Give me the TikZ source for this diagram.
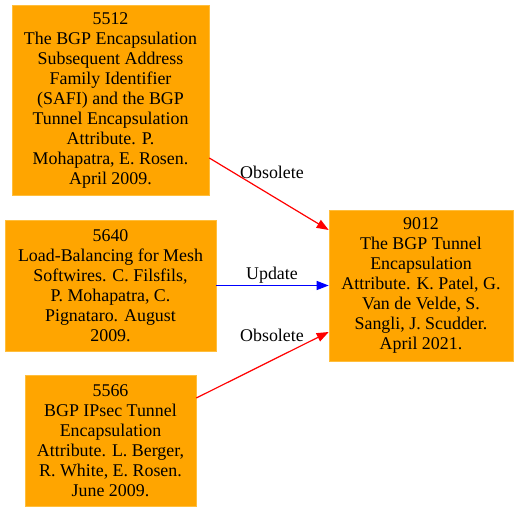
\documentclass[tikz,border=0pt]{standalone}
\usepackage{fontspec}
\setmainfont{Liberation Serif}
\usetikzlibrary{calc,arrows.meta}
\definecolor{gvorange}{RGB}{255,165,0}
\definecolor{gvedge}{RGB}{255,190,60}

\begin{document}
\begin{tikzpicture}[x=1pt,y=-1pt,
    rfc/.style={fill=gvorange,draw=gvedge,line width=0.6pt,align=center,
      inner sep=0pt,font=\fontsize{17.9}{20}\selectfont},
    link/.style={line width=1.2pt,-{Triangle[length=12pt,width=9pt]}},
    lbl/.style={font=\fontsize{17.9}{20}\selectfont,inner sep=0pt}]
  % canvas
  \useasboundingbox (0,0) rectangle (519,511);

  % documents
  \node[rfc,minimum width=197,minimum height=190] (n5512) at (110.5,100)
    {5512\\The BGP Encapsulation\\Subsequent Address\\Family Identifier\\(SAFI) and the BGP\\Tunnel Encapsulation\\Attribute. P.\\Mohapatra, E. Rosen.\\April 2009.};
  \node[rfc,minimum width=211,minimum height=131] (n5640) at (110.5,285.5)
    {5640\\Load-Balancing for Mesh\\Softwires. C. Filsfils,\\P. Mohapatra, C.\\Pignataro. August\\2009.};
  \node[rfc,minimum width=171,minimum height=131] (n5566) at (110.5,440.5)
    {5566\\BGP IPsec Tunnel\\Encapsulation\\Attribute. L. Berger,\\R. White, E. Rosen.\\June 2009.};
  \node[rfc,minimum width=184,minimum height=151] (n9012) at (421,285.5)
    {9012\\The BGP Tunnel\\Encapsulation\\Attribute. K. Patel, G.\\Van de Velde, S.\\Sangli, J. Scudder.\\April 2021.};

  % relations
  \draw[link,red] ($(n5512.east)+(0,58)$) -- ($(n9012.west)+(0,-55.5)$);
  \draw[link,blue] (n5640.east) -- (n9012.west);
  \draw[link,red] ($(n5566.east)+(0,-42.5)$) -- ($(n9012.west)+(0,46.5)$);

  \node[lbl] (l1) at (272,172) {Obsolete};
  \node[lbl] (l2) at (272,275) {Update};
  \node[lbl] (l3) at (272,335) {Obsolete};
\end{tikzpicture}
\end{document}
